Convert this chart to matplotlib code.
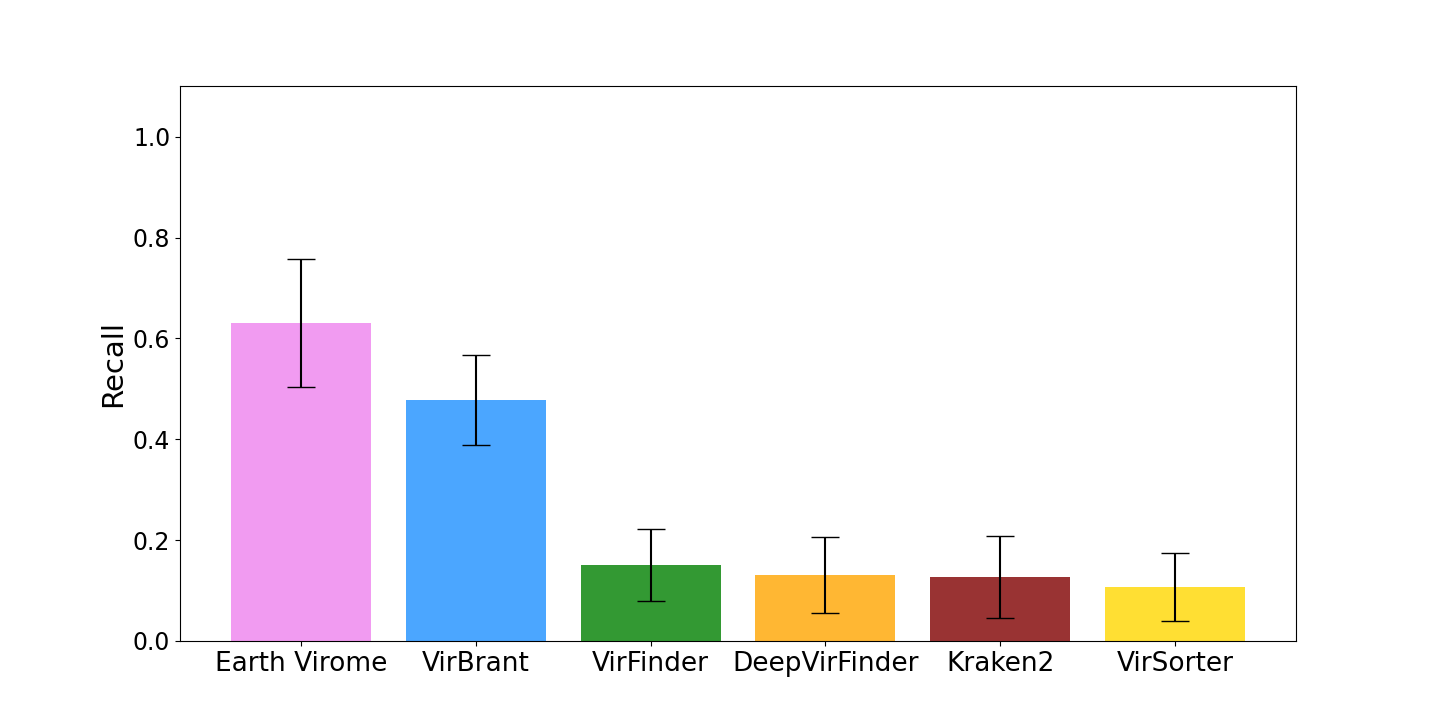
import matplotlib
matplotlib.use("Agg")
import matplotlib.pyplot as plt

tools = ["Earth Virome", "VirBrant", "VirFinder", "DeepVirFinder", "Kraken2", "VirSorter"]
recall = [0.630, 0.478, 0.150, 0.130, 0.126, 0.107]
errors = [0.127, 0.089, 0.072, 0.075, 0.081, 0.067]
colors = ["violet", "dodgerblue", "green", "orange", "maroon", "gold"]

fig, ax = plt.subplots(figsize=(14.4, 7.2), dpi=100)
ax.bar(range(len(tools)), recall, yerr=errors, color=colors, alpha=0.8, capsize=10, width=0.8)
ax.set_xticks(range(len(tools)))
ax.set_xticklabels(tools, fontsize=19)
ax.tick_params(axis="y", labelsize=17)
ax.set_ylim(0, 1.1)
ax.set_yticks([0.0, 0.2, 0.4, 0.6, 0.8, 1.0])
ax.set_ylabel("Recall", fontsize=21)
fig.savefig("out.png")
